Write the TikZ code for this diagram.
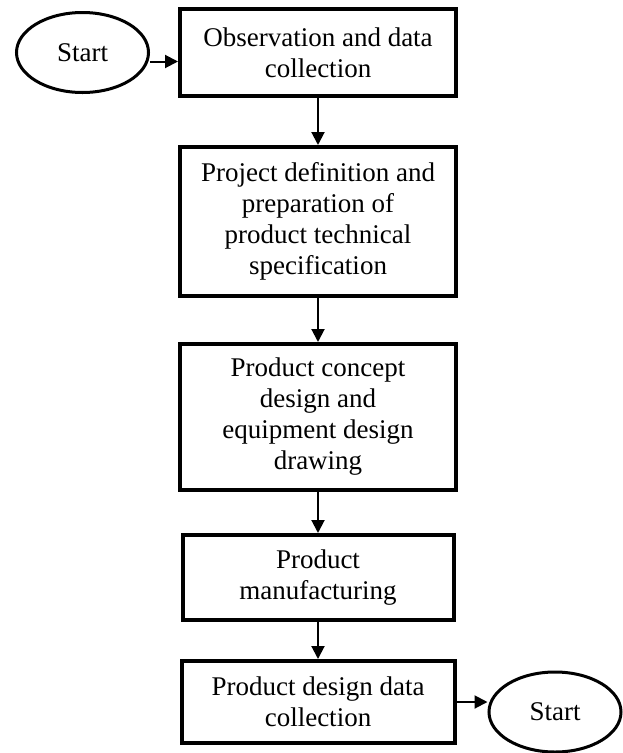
\documentclass[tikz,border=0pt]{standalone}
\usepackage{fontspec}
\setmainfont{Liberation Serif}
\usetikzlibrary{shapes.geometric, arrows.meta, positioning}

\begin{document}
\begin{tikzpicture}[
    x=1pt, y=-1pt,
    proc/.style={rectangle, draw=black, line width=4pt, fill=white,
                 minimum width=276pt, inner sep=0pt, align=center,
                 font=\fontsize{27}{31}\selectfont},
    term/.style={ellipse, draw=black, line width=3pt, fill=white,
                 minimum width=132pt, minimum height=80pt, inner sep=0pt,
                 font=\fontsize{27}{31}\selectfont},
    arr/.style={-{Triangle[length=13pt, width=13pt]}, line width=2pt},
]
\useasboundingbox (0,0) rectangle (622,753);

% Main column of process boxes
\node[proc, minimum height=87pt] (obs) at (318,52.5)
    {Observation and data\\collection};
\node[proc, minimum height=149pt, below=47pt of obs]
    (spec) {Project definition and\\preparation of\\product technical\\specification};
\node[proc, minimum height=146pt, below=44pt of spec]
    (concept) {Product concept\\design and\\equipment design\\drawing};
\node[proc, minimum height=85pt, minimum width=271pt, below=41pt of concept]
    (manuf) {Product\\manufacturing};
\node[proc, minimum height=82pt, minimum width=273pt, below=37pt of manuf]
    (collect) {Product design data\\collection};

% Terminators
\node[term, left=28pt of obs] (start) {Start};
\node[term, right=31pt of collect, yshift=-10pt] (finish) {Start};

% Flow arrows
\draw[arr] ([yshift=-9pt]start.east) -- ([yshift=-9pt]start.east -| obs.west);
\draw[arr] (obs) -- (spec);
\draw[arr] (spec) -- (concept);
\draw[arr] (concept) -- (manuf);
\draw[arr] (manuf) -- (collect);
\draw[arr] (collect.east) -- (collect.east -| finish.west);

\end{tikzpicture}
\end{document}
